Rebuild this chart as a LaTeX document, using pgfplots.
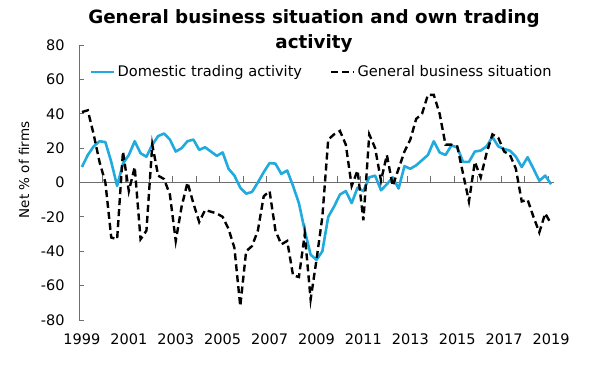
\documentclass[border=0pt]{standalone}
\usepackage{pgfplots}
\pgfplotsset{compat=1.18}
\usepackage{fontspec}
\setmainfont{DejaVu Sans}
\definecolor{dblue}{RGB}{33,170,222}
\definecolor{axgray}{RGB}{110,110,110}
\pgfplotstableread{
i v
0 9
1 16
2 21
3 24
4 23.5
5 12
6 -2
7 11
8 16
9 24
10 17
11 15
12 22
13 27
14 28.5
15 25
16 18
17 20
18 24
19 25
20 19
21 20.5
22 18
23 15.5
24 17.5
25 8
26 4
27 -3
28 -6.5
29 -5.5
30 0
31 6
32 11.3
33 11
34 5
35 7
36 -2
37 -12
38 -28
39 -42
40 -45
41 -40
42 -20
43 -14
44 -7
45 -5
46 -12
47 -3
48 -5
49 3
50 4
51 -4.5
52 -1
53 3
54 -3.5
55 9.5
56 8
57 10
58 13
59 16
60 24
61 17.5
62 16
63 21.5
64 20.5
65 12
66 12
67 18
68 18.6
69 21
70 26.5
71 21
72 19.5
73 18.5
74 15
75 9
76 14.7
77 8
78 1
79 4
80 -1
}\domestic
\pgfplotstableread{
i v
0 41
1 42
2 28
3 12
4 0
5 -32
6 -33
7 18
8 -5
9 9
10 -33
11 -28
12 22
13 4
14 2
15 -7
16 -34
17 -14
18 0
19 -12
20 -23
21 -16
22 -17
23 -18
24 -20
25 -27
26 -38
27 -72
28 -40
29 -37
30 -28
31 -8
32 -5
33 -28
34 -36
35 -34
36 -54
37 -55
38 -30
39 -68
40 -45
41 -20
42 25
43 28
44 30
45 22
46 -2
47 7
48 -22
49 28
50 20
51 1
52 16
53 -2
54 8
55 18
56 25
57 37
58 40
59 51
60 51
61 40
62 22
63 22
64 21
65 5
66 -11
67 12
68 3
69 17
70 28
71 26
72 18
73 16
74 8
75 -11
76 -10
77 -20
78 -29
79 -18
80 -24
}\general
\begin{document}
\begin{tikzpicture}
\path[use as bounding box] (-79bp,-56bp) rectangle (513bp,320bp);
\begin{axis}[
  at={(0,0)}, anchor=south west,
  scale only axis, width=475bp, height=275bp,
  xmin=-0.5, xmax=80.5, ymin=-80, ymax=80,
  axis lines*=left,
  x axis line style={draw=none},
  y axis line style={draw=axgray, line width=0.9bp},
  ytick={-80,-60,...,80},
  tick align=inside, ytick pos=left,
  major tick length=5bp,
  ytick style={draw=axgray, line width=0.9bp},
  xtick={0,8,...,80},
  xticklabels={1999,2001,2003,2005,2007,2009,2011,2013,2015,2017,2019},
  xtick style={draw=none},
  /pgf/number format/assume math mode=true,
  tick label style={font=\fontsize{14.5bp}{16bp}\selectfont},
  yticklabel style={xshift=-11bp},
  xticklabel style={yshift=-10bp},
  legend columns=2,
  legend cell align=left,
  legend style={draw=none, fill=none, at={(0.023,0.902)}, anchor=west,
    font=\fontsize{14.6bp}{16bp}\selectfont, inner sep=0pt,
    /tikz/every even column/.append style={column sep=26bp}},
  legend image code/.code={\draw[#1] (0bp,0bp) -- (23bp,0bp);},
  clip=false,
]
\draw[axgray, line width=1bp] (axis cs:-0.5,0) -- (axis cs:80.5,0);
\draw[axgray, line width=1bp]
  (axis cs:3.5,0) -- (axis cs:3.5,3.6)
  (axis cs:7.5,0) -- (axis cs:7.5,3.6)
  (axis cs:11.5,0) -- (axis cs:11.5,3.6)
  (axis cs:15.5,0) -- (axis cs:15.5,3.6)
  (axis cs:19.5,0) -- (axis cs:19.5,3.6)
  (axis cs:23.5,0) -- (axis cs:23.5,3.6)
  (axis cs:27.5,0) -- (axis cs:27.5,3.6)
  (axis cs:31.5,0) -- (axis cs:31.5,3.6)
  (axis cs:35.5,0) -- (axis cs:35.5,3.6)
  (axis cs:39.5,0) -- (axis cs:39.5,3.6)
  (axis cs:43.5,0) -- (axis cs:43.5,3.6)
  (axis cs:47.5,0) -- (axis cs:47.5,3.6)
  (axis cs:51.5,0) -- (axis cs:51.5,3.6)
  (axis cs:55.5,0) -- (axis cs:55.5,3.6)
  (axis cs:59.5,0) -- (axis cs:59.5,3.6)
  (axis cs:63.5,0) -- (axis cs:63.5,3.6)
  (axis cs:67.5,0) -- (axis cs:67.5,3.6)
  (axis cs:71.5,0) -- (axis cs:71.5,3.6)
  (axis cs:75.5,0) -- (axis cs:75.5,3.6)
  (axis cs:79.5,0) -- (axis cs:79.5,3.6);
\addplot[dblue, line width=2.6bp, line join=round] table[x=i,y=v] {\domestic};
\addlegendentry{Domestic trading activity}
\addplot[black, line width=2.4bp, dash pattern=on 7bp off 4bp] table[x=i,y=v] {\general};
\addlegendentry{General business situation}
\end{axis}
\node[font=\bfseries\fontsize{18.3bp}{25bp}\selectfont, align=center] at (235bp,289bp) {General business situation and own trading\\activity};
\node[rotate=90, font=\fontsize{13.5bp}{15bp}\selectfont] at (-55bp,150bp) {Net \% of firms};
\end{tikzpicture}
\end{document}
